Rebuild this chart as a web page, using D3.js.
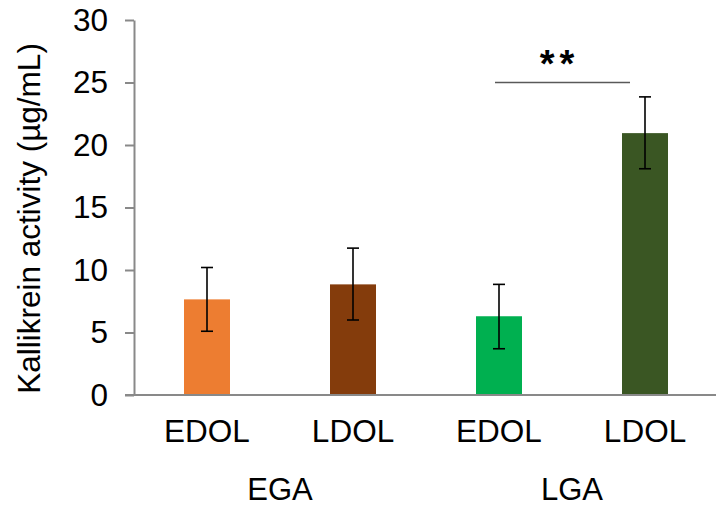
<!DOCTYPE html>
<html>
<head>
<meta charset="utf-8">
<script src="https://cdn.jsdelivr.net/npm/d3@7"></script>
<style>
  body { margin: 0; background: #fff; }
  svg { display: block; font-family: "Liberation Sans", Arial, sans-serif; }
</style>
</head>
<body>
<div id="chart"></div>
<script>
let width = 716;
let height = 507;

// data
let categories = ["EGA-EDOL", "EGA-LDOL", "LGA-EDOL", "LGA-LDOL"];
let barLabels = ["EDOL", "LDOL", "EDOL", "LDOL"];
let groups = ["EGA", "LGA"];
let values = [7.65, 8.85, 6.3, 20.95];
let errLow = [5.1, 6.0, 3.7, 18.1];
let errHigh = [10.2, 11.75, 8.85, 23.85];
let colors = ["#ED7D31", "#843C0C", "#00B050", "#3A5623"];
let yTicks = [0, 5, 10, 15, 20, 25, 30];
let sigPair = [2, 3];
let sigLevel = 25;
let sigText = "**";

let axisColor = "#898989";
let fontSize = 31.5;
let margin = {left: 134, right: -2, top: 20, bottom: 112};

let x = d3.scaleBand()
    .domain(categories)
    .range([margin.left, width - margin.right])
    .paddingInner(0.685)
    .paddingOuter(0.3425);

let y = d3.scaleLinear()
    .domain([0, 30])
    .range([height - margin.bottom, margin.top]);

let svg = d3.select("#chart").append("svg")
    .attr("width", width)
    .attr("height", height);

// bars
svg.append("g")
    .selectAll("rect")
    .data(values)
    .join("rect")
    .attr("x", (d, i) => x(categories[i]))
    .attr("y", d => y(d))
    .attr("width", x.bandwidth())
    .attr("height", d => y(0) - y(d))
    .attr("fill", (d, i) => colors[i]);

// y axis
let yAxis = svg.append("g")
    .attr("transform", `translate(${margin.left},0)`)
    .call(d3.axisLeft(y).tickValues(yTicks).tickSize(9).tickPadding(17).tickSizeOuter(0));
yAxis.select(".domain").attr("stroke", axisColor).attr("stroke-width", 2);
yAxis.selectAll(".tick line").attr("stroke", axisColor).attr("stroke-width", 2);
yAxis.selectAll(".tick text")
    .attr("font-size", fontSize)
    .attr("fill", "#000")
    .attr("font-family", "Liberation Sans, Arial, sans-serif");

// x axis baseline
let xAxis = svg.append("g")
    .attr("transform", `translate(0,${y(0)})`)
    .call(d3.axisBottom(x).tickSize(0).tickPadding(25).tickFormat((d, i) => barLabels[i]));
xAxis.select(".domain").attr("stroke", axisColor).attr("stroke-width", 2)
    .attr("d", `M${margin.left - 9},0H${width}`);
xAxis.selectAll(".tick text")
    .attr("font-size", fontSize)
    .attr("fill", "#000")
    .attr("font-family", "Liberation Sans, Arial, sans-serif");

// group labels
svg.append("g")
    .selectAll("text")
    .data(groups)
    .join("text")
    .attr("x", (d, i) => (x(categories[2 * i]) + x(categories[2 * i + 1]) + x.bandwidth()) / 2)
    .attr("y", y(0) + 105)
    .attr("text-anchor", "middle")
    .attr("font-size", 31)
    .text(d => d);

// error bars
let err = svg.append("g")
    .attr("stroke", "#000")
    .attr("stroke-width", 1.6)
    .selectAll("g")
    .data(values)
    .join("g")
    .attr("transform", (d, i) => `translate(${x(categories[i]) + x.bandwidth() / 2},0)`);
err.append("line")
    .attr("y1", (d, i) => y(errLow[i]))
    .attr("y2", (d, i) => y(errHigh[i]));
err.append("line")
    .attr("x1", -6).attr("x2", 6)
    .attr("y1", (d, i) => y(errLow[i]))
    .attr("y2", (d, i) => y(errLow[i]));
err.append("line")
    .attr("x1", -6).attr("x2", 6)
    .attr("y1", (d, i) => y(errHigh[i]))
    .attr("y2", (d, i) => y(errHigh[i]));

// significance bracket
let sx1 = x(categories[sigPair[0]]) + x.bandwidth() / 2 - 4;
let sx2 = x(categories[sigPair[1]]) + x.bandwidth() / 2 - 15;
svg.append("line")
    .attr("x1", sx1).attr("x2", sx2)
    .attr("y1", y(sigLevel)).attr("y2", y(sigLevel))
    .attr("stroke", "#595959")
    .attr("stroke-width", 1.6);
svg.append("text")
    .attr("x", (sx1 + sx2) / 2 - 3)
    .attr("y", y(sigLevel) - 6)
    .attr("text-anchor", "middle")
    .attr("font-size", 38)
    .attr("font-weight", "bold")
    .attr("letter-spacing", 5)
    .text(sigText);

// y axis title
svg.append("text")
    .attr("transform", `translate(40,${(y(0) + y(30)) / 2 + 11}) rotate(-90)`)
    .attr("text-anchor", "middle")
    .attr("font-size", 31.5)
    .text("Kallikrein activity (µg/mL)");
</script>
</body>
</html>
